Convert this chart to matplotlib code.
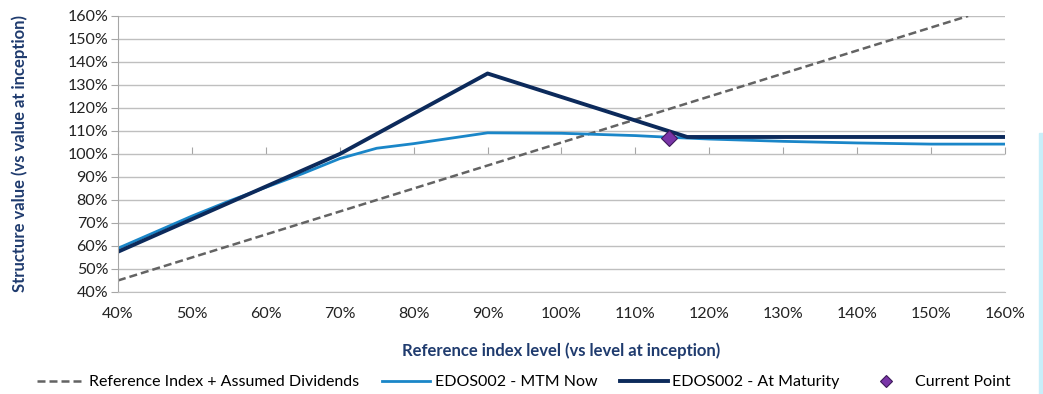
import matplotlib.pyplot as plt
import matplotlib.ticker as mtick
from matplotlib.patches import Rectangle

# reference index level (x) and structure values (y), both in %
refX = [40, 155]
refY = [45, 160]

mtmX = [40, 45, 50, 55, 60, 65, 70, 75, 80, 90, 100, 110, 115, 120, 130, 140, 150, 160]
mtmY = [59, 66, 73, 79.5, 85.5, 91.5, 98, 102.5, 104.5, 109.2, 109, 108, 107.2, 106.5, 105.5, 104.8, 104.3, 104.3]

matX = [40, 70, 90, 117, 160]
matY = [57.5, 100, 135, 107.4, 107.4]

curX = [114.6]
curY = [107]

xTicks = list(range(40, 161, 10))
yTicks = list(range(40, 161, 10))

plt.rcParams['font.family'] = ['Lato', 'DejaVu Sans']
axisBlue = '#1f3b6e'

fig = plt.figure(figsize=(10.43, 3.94), dpi=100)
ax = fig.add_axes([0.1131, 0.2589, 0.8505, 0.7005])

ax.plot(refX, refY, color='#636363', lw=1.8, ls=(0, (3.2, 1.6)),
        label='Reference Index + Assumed Dividends')
ax.plot(mtmX, mtmY, color='#1a86c8', lw=2.0, label='EDOS002 - MTM Now')
ax.plot(matX, matY, color='#0c2a5b', lw=2.8, label='EDOS002 - At Maturity')
ax.plot(curX, curY, ls='none', marker='D', ms=8, mfc='#7a35a8', mec='#3d1a5a',
        mew=0.8, label='Current Point', zorder=5)

ax.set_xlim(40, 160)
ax.set_ylim(40, 160)
ax.set_xticks(xTicks)
ax.set_yticks(yTicks)
ax.xaxis.set_major_formatter(mtick.FormatStrFormatter('%d%%'))
ax.yaxis.set_major_formatter(mtick.FormatStrFormatter('%d%%'))
ax.tick_params(axis='both', labelsize=11.5, colors='#222222')
ax.tick_params(axis='x', length=0, pad=11)
ax.tick_params(axis='y', length=5, color='#a6a6a6', pad=2)
ax.grid(axis='y', color='#bfbfbf', lw=1.0)
ax.set_axisbelow(True)
for s in ['top', 'right']:
    ax.spines[s].set_visible(False)
ax.spines['left'].set_color('#a6a6a6')
ax.spines['bottom'].set_color('#bfbfbf')

# the category axis crosses at 100% in the original, ticks only
sec = ax.secondary_xaxis(0.5)
sec.set_xticks(xTicks)
sec.tick_params(axis='x', direction='out', length=5, color='#a6a6a6', labelbottom=False, labeltop=False)
sec.spines['bottom'].set_visible(False)
sec.spines['top'].set_visible(False)

ax.set_ylabel('Structure value (vs value at inception)', fontsize=12, fontweight='bold',
              color=axisBlue, labelpad=28)
ax.set_xlabel('Reference index level (vs level at inception)', fontsize=12, fontweight='bold',
              color=axisBlue, labelpad=15)

leg = fig.legend(loc='lower center', bbox_to_anchor=(0.502, -0.025), ncol=4, frameon=False,
                 fontsize=11.5, handlelength=3.0, columnspacing=1.4, handletextpad=0.3,
                 markerscale=0.75)

# light cyan strip on the right edge of the original image
fig.patches.append(Rectangle((1039 / 1043, 0), 4 / 1043, 1 - 133 / 394, transform=fig.transFigure,
                             color='#c8eef9', zorder=0))

fig.savefig('out.png', dpi=100)
